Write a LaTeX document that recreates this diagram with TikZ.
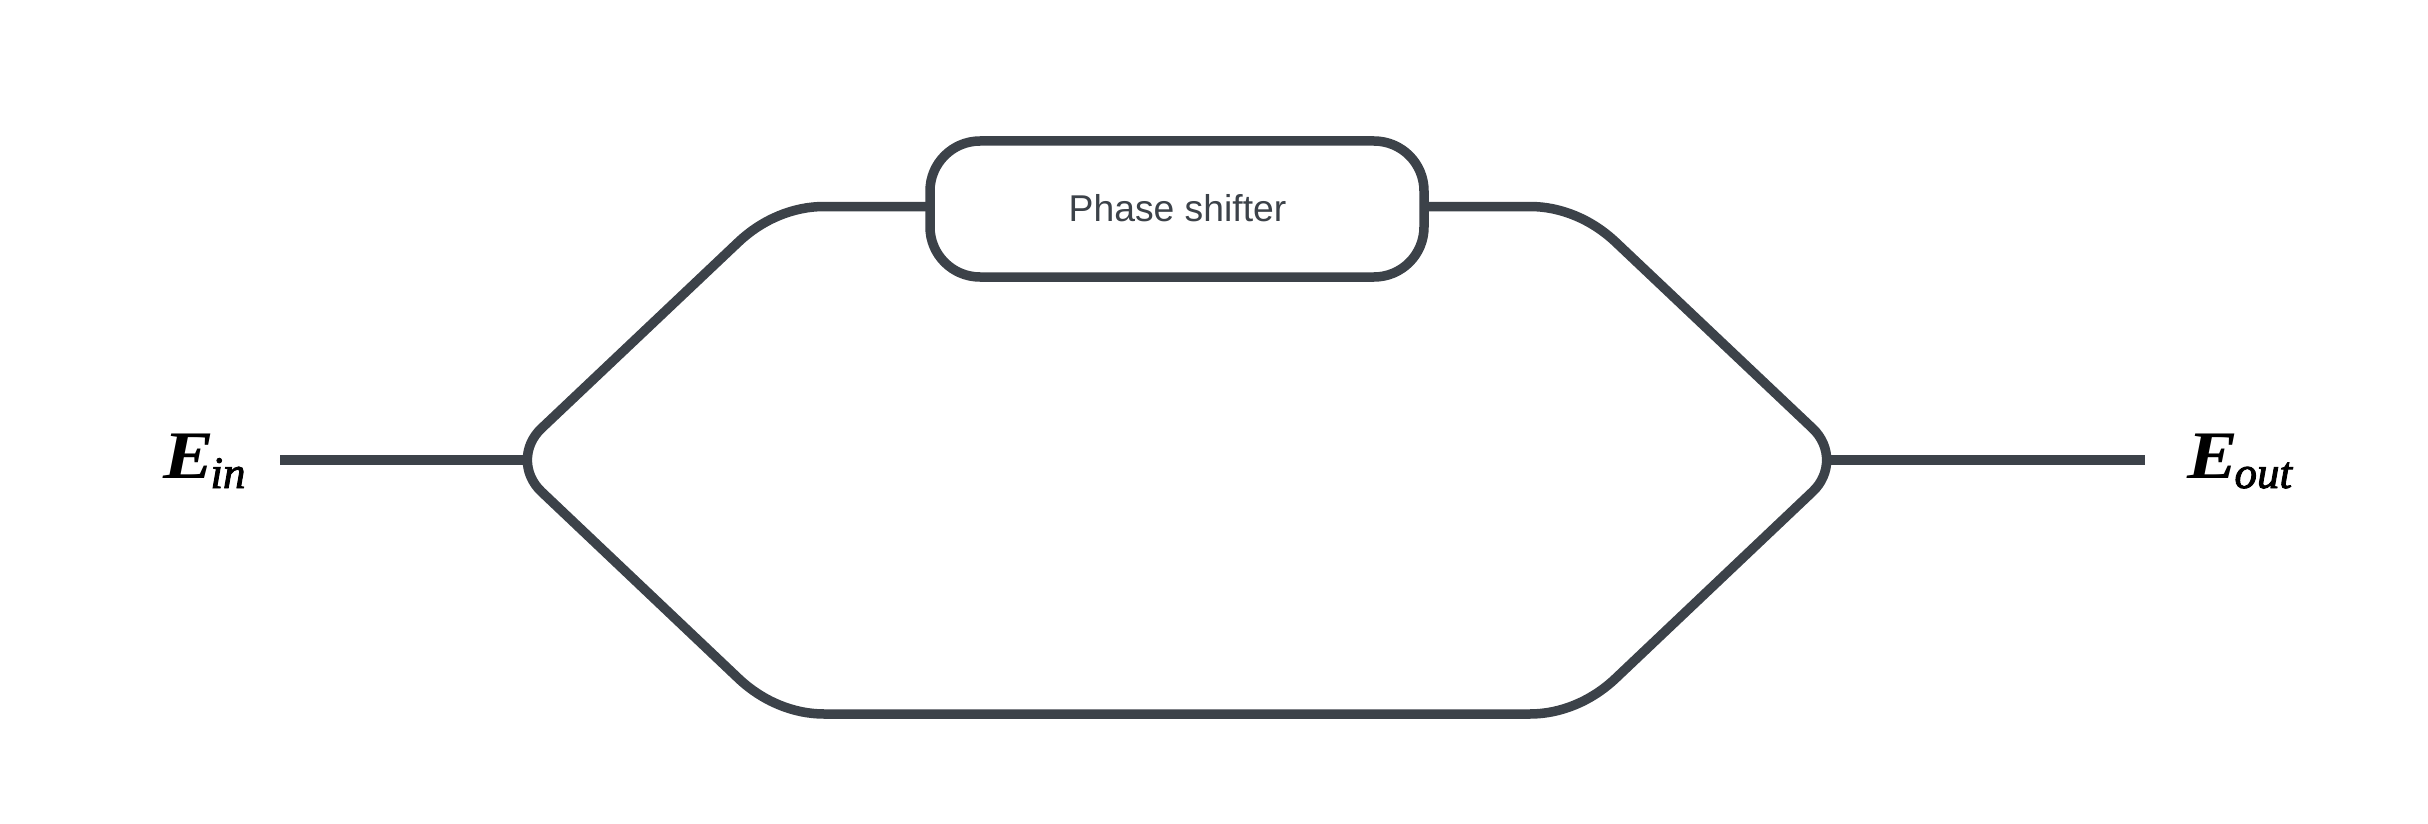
\documentclass[tikz,border=0pt]{standalone}
\usepackage{fontspec}
\usetikzlibrary{calc}
\setmainfont{Liberation Sans}
\newfontfamily\fieldmain{Liberation Serif Bold Italic}[FakeStretch=1.12]
\newfontfamily\fieldsub{Liberation Serif Italic}[FakeBold=2]
\definecolor{wire}{HTML}{3C4249}
\newcommand{\fieldlabel}[2]{{\fieldmain\fontsize{68}{72}\selectfont #1\fieldsub\fontsize{45}{48}\selectfont\raisebox{-10pt}{\kern-3.5pt #2}}}
\tikzset{
  wireline/.style={draw=wire,line width=9.5pt},
  armpath/.style={wireline},
  shifterbox/.style={wireline,fill=white,rounded corners=50pt,minimum width=494pt,minimum height=136pt,inner sep=0pt,anchor=center},
  shiftertext/.style={text=wire,font=\fontsize{37.3}{40}\selectfont,inner sep=0pt,anchor=base},
  fieldtext/.style={text=black,inner sep=0pt,anchor=base west}
}
\begin{document}
\begin{tikzpicture}[x=1pt,y=-1pt]
\useasboundingbox (0,0) rectangle (2428,824);
\fill[white] (0,0) rectangle (2428,824);
\coordinate (inEnd) at (280,460);
\coordinate (inJoin) at (526,460);
\coordinate (outJoin) at (1828,460);
\coordinate (outEnd) at (2145,460);
\coordinate (topL) at (776,206.5);
\coordinate (left) at (508,460);
\coordinate (botL) at (776,714);
\coordinate (botR) at (1578,714);
\coordinate (right) at (1846,460);
\coordinate (topR) at (1578,206.5);
\coordinate (armStartL) at (930,206.5);
\coordinate (armStartR) at (1424,206.5);
\draw[armpath] (armStartL)
  -- ($(topL)!48pt!(armStartL)$)
  .. controls ($(topL)!17.3pt!(armStartL)$) and ($(topL)!18.7pt!(left)$) .. ($(topL)!52pt!(left)$)
  -- ($(left)!46pt!(topL)$)
  .. controls ($(left)!20.2pt!(topL)$) and ($(left)!20.2pt!(botL)$) .. ($(left)!46pt!(botL)$)
  -- ($(botL)!52pt!(left)$)
  .. controls ($(botL)!18.7pt!(left)$) and ($(botL)!17.3pt!(botR)$) .. ($(botL)!48pt!(botR)$)
  -- ($(botR)!48pt!(botL)$)
  .. controls ($(botR)!17.3pt!(botL)$) and ($(botR)!18.7pt!(right)$) .. ($(botR)!52pt!(right)$)
  -- ($(right)!46pt!(botR)$)
  .. controls ($(right)!20.2pt!(botR)$) and ($(right)!20.2pt!(topR)$) .. ($(right)!46pt!(topR)$)
  -- ($(topR)!52pt!(right)$)
  .. controls ($(topR)!18.7pt!(right)$) and ($(topR)!17.3pt!(armStartR)$) .. ($(topR)!48pt!(armStartR)$)
  -- (armStartR);
\node[shifterbox] (ps) at (1177,209) {};
\node[shiftertext] (pslabel) at (1177.5,221) {Phase shifter};
\draw[wireline] (inEnd) -- (inJoin);
\draw[wireline] (outJoin) -- (outEnd);
\node[fieldtext] (ein) at (163,478) {\fieldlabel{E}{in}};
\node[fieldtext] (eout) at (2187,478) {\fieldlabel{E}{out}};
\end{tikzpicture}
\end{document}
